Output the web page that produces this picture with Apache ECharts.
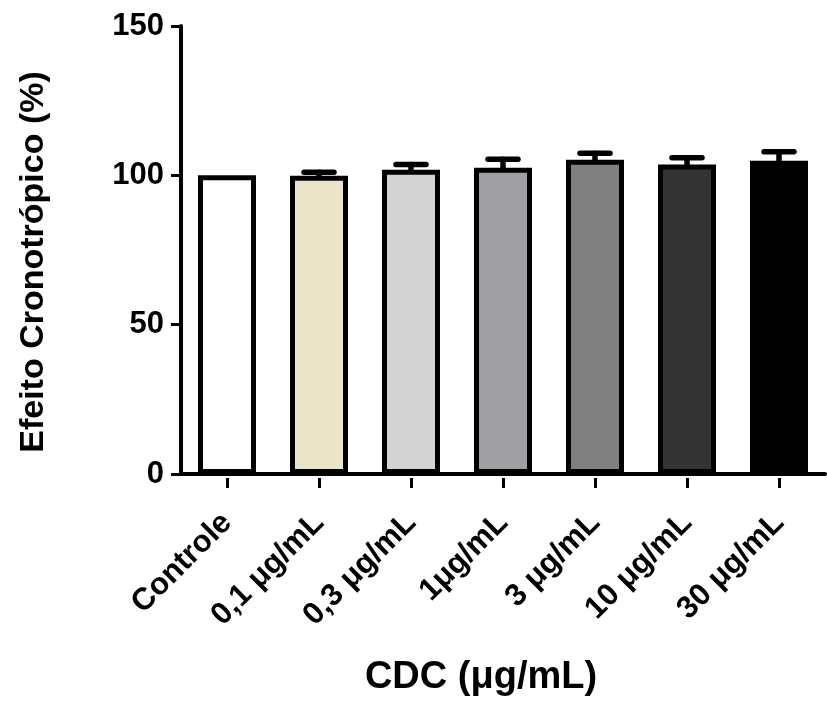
<!DOCTYPE html>
<html>
<head>
<meta charset="utf-8">
<script src="https://cdn.jsdelivr.net/npm/echarts@6/dist/echarts.min.js"></script>
<style>
html,body{margin:0;padding:0;background:#fff;width:100%;height:100%;overflow:hidden;}
#chart{width:100vw;height:100vh;}
</style>
</head>
<body>
<div id="chart"></div>
<script>
var categories = ['Controle', '0,1 μg/mL', '0,3 μg/mL', '1μg/mL', '3 μg/mL', '10 μg/mL', '30 μg/mL'];
var means = [100, 99.9, 101.9, 102.5, 105.2, 103.6, 104.9];
var sems = [0, 1.1, 1.7, 2.9, 2.2, 2.3, 3.0];
var barColors = ['#ffffff', '#eae5c9', '#d3d3d3', '#a09fa4', '#808080', '#333333', '#000000'];
var yTicks = [0, 50, 100, 150];

var FONT = '"Liberation Sans", Arial, sans-serif';
var chart = echarts.init(document.getElementById('chart'));

var barData = means.map(function (v, i) {
  return { value: v, itemStyle: { color: barColors[i] } };
});
var errData = means.map(function (v, i) { return [i, v, v + sems[i]]; });

chart.setOption({
  animation: false,
  backgroundColor: '#ffffff',
  grid: { left: 181, right: 2, top: 26, bottom: 227, containLabel: false },
  xAxis: [{
    type: 'category',
    data: categories,
    axisLine: { show: true, lineStyle: { color: '#000', width: 4 } },
    axisTick: { show: false },
    axisLabel: { show: false },
    name: 'CDC (μg/mL)',
    nameLocation: 'middle',
    nameGap: 185,
    nameTextStyle: { fontFamily: FONT, fontWeight: 'bold', fontSize: 38, color: '#000', padding: [0, 44, 0, 0] }
  }, {
    type: 'category',
    data: categories,
    position: 'bottom',
    offset: 4,
    axisLine: { show: false },
    axisTick: { show: true, alignWithLabel: true, length: 10, lineStyle: { color: '#000', width: 3 } },
    axisLabel: {
      show: true, rotate: 45, interval: 0, margin: 40,
      fontFamily: FONT, fontWeight: 'bold', fontSize: 31, color: '#000'
    }
  }],
  yAxis: {
    type: 'value',
    min: yTicks[0],
    max: yTicks[yTicks.length - 1],
    interval: 50,
    splitLine: { show: false },
    axisLine: { show: true, lineStyle: { color: '#000', width: 4 } },
    axisTick: { show: true, length: 10, lineStyle: { color: '#000', width: 3 } },
    axisLabel: { margin: 17, fontFamily: FONT, fontWeight: 'bold', fontSize: 31, color: '#000' },
    name: 'Efeito Cronotrópico (%)',
    nameLocation: 'middle',
    nameGap: 130,
    nameTextStyle: { fontFamily: FONT, fontWeight: 'bold', fontSize: 34, color: '#000', padding: [0, 24, 0, 0] }
  },
  series: [{
    type: 'bar',
    xAxisIndex: 0,
    data: barData,
    barWidth: 58,
    itemStyle: { borderColor: '#000', borderWidth: 5 },
    z: 3
  }, {
    type: 'custom',
    xAxisIndex: 0,
    data: errData,
    z: 2,
    renderItem: function (params, api) {
      var i = api.value(0);
      var base = api.coord([i, api.value(1)]);
      var top = api.coord([i, api.value(2)]);
      if (api.value(2) - api.value(1) <= 0) return { type: 'group', children: [] };
      var style = { stroke: '#000', lineWidth: 5.5, lineCap: 'round' };
      return {
        type: 'group',
        children: [
          { type: 'line', shape: { x1: base[0], y1: base[1], x2: top[0], y2: top[1] }, style: style },
          { type: 'line', shape: { x1: top[0] - 15, y1: top[1], x2: top[0] + 15, y2: top[1] }, style: style }
        ]
      };
    }
  }]
});
</script>
</body>
</html>
